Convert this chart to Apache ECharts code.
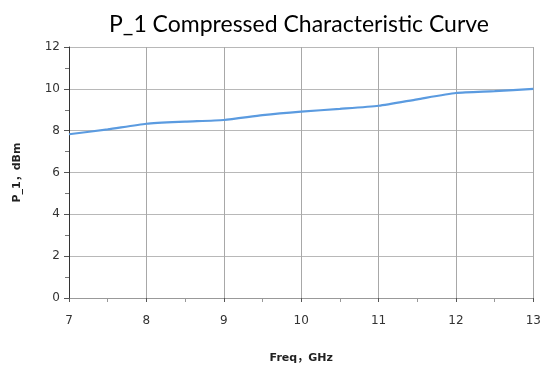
<!DOCTYPE html>
<html>
<head>
    <meta charset="utf-8">
    <title>ECharts</title>
    <script src="https://cdn.jsdelivr.net/npm/echarts@6/dist/echarts.min.js"></script>
    <style>
        html, body { margin: 0; padding: 0; background: #fff; }
    </style>
</head>
<body>
<div id="main" style="width: 544px;height:369px;"></div>
<script type="text/javascript">
    // 频率 (GHz) 与 P_1 (dBm)
    var freq = [7, 7.5, 8, 8.5, 9, 9.5, 10, 10.5, 11, 11.5, 12, 12.5, 13];
    var p1 = [7.83, 8.06, 8.33, 8.43, 8.51, 8.74, 8.91, 9.04, 9.19, 9.5, 9.8, 9.89, 10.0];

    var seriesData = [];
    for (var i = 0; i < freq.length; i++) {
        seriesData.push([freq[i], p1[i]]);
    }

    var nameFont = 'DejaVu Sans, "Noto Sans CJK SC", sans-serif';

    var myChart = echarts.init(document.getElementById('main'));
    var option = {
        animation: false,
        title: {
            text: 'P_1 Compressed Characteristic Curve',
            left: 294,
            top: 8,
            textAlign: 'center',
            textStyle: {
                fontFamily: 'Lato',
                fontWeight: 'normal',
                fontSize: 23,
                color: '#000'
            }
        },
        grid: {
            left: 69,
            right: 10,
            top: 47,
            bottom: 69
        },
        xAxis: {
            type: 'value',
            min: 7,
            max: 13,
            interval: 1,
            name: 'Freq，GHz',
            nameLocation: 'middle',
            nameGap: 55,
            nameTextStyle: {
                fontFamily: nameFont,
                fontWeight: 'bold',
                fontSize: 11,
                color: '#222'
            },
            axisLine: { lineStyle: { color: '#999', width: 1 } },
            axisTick: { length: 4, lineStyle: { color: '#555' } },
            minorTick: { show: true, splitNumber: 2, length: 4, lineStyle: { color: '#999' } },
            axisLabel: {
                margin: 17,
                fontFamily: 'DejaVu Sans',
                fontSize: 12,
                color: '#333'
            },
            splitLine: { show: true, lineStyle: { color: '#a8a8a8', width: 1 } }
        },
        yAxis: {
            type: 'value',
            min: 0,
            max: 12,
            interval: 2,
            name: 'P_1，dBm',
            nameLocation: 'middle',
            nameGap: 46,
            nameTextStyle: {
                fontFamily: nameFont,
                fontWeight: 'bold',
                fontSize: 11,
                color: '#222'
            },
            axisLine: { show: true, lineStyle: { color: '#333', width: 1 } },
            axisTick: { show: true, length: 5, lineStyle: { color: '#555' } },
            minorTick: { show: true, splitNumber: 2, length: 4, lineStyle: { color: '#777' } },
            axisLabel: {
                margin: 9,
                fontFamily: 'DejaVu Sans',
                fontSize: 12,
                color: '#333'
            },
            splitLine: { show: true, lineStyle: { color: '#b8b8b8', width: 1 } }
        },
        series: [{
            name: 'P_1',
            type: 'line',
            data: seriesData,
            showSymbol: false,
            smooth: 0.2,
            lineStyle: { color: '#5b9be0', width: 2.2 }
        }]
    };
    myChart.setOption(option);
</script>
</body>
</html>
